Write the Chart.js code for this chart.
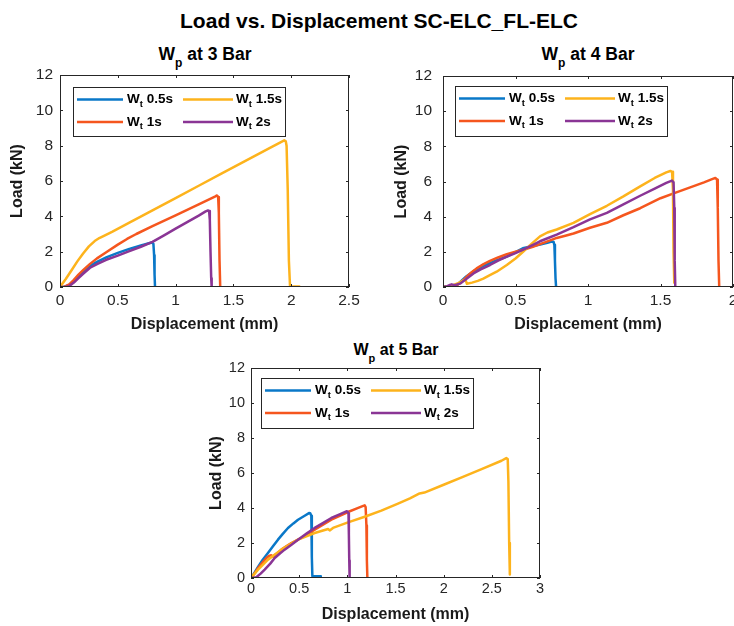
<!DOCTYPE html>
<html>
<head>
<meta charset="utf-8">
<script src="https://cdn.jsdelivr.net/npm/chart.js@4.4.1/dist/chart.umd.min.js"></script>
<style>
  html, body { margin: 0; padding: 0; background: #fff; }
  body { width: 734px; height: 626px; position: relative; overflow: hidden; font-family: "Liberation Sans", Arial, sans-serif; }
  .box { position: absolute; }
  .ttl { position: absolute; text-align: center; font-weight: bold; color: #000; white-space: nowrap; }
  .ttl sub { line-height: 0; }
</style>
</head>
<body>
<div class="ttl" id="mainTitle" style="left:179px; width:400px; top:8.5px; font-size:21px; line-height:24px;">Load vs. Displacement SC-ELC_FL-ELC</div>
<div class="ttl" style="left:105px; width:200px; top:43.6px; font-size:17.5px; line-height:20px;">W<sub style="font-size:12px; vertical-align:-7px;">p</sub> at 3 Bar</div>
<div class="ttl" style="left:488px; width:200px; top:43.6px; font-size:17.5px; line-height:20px;">W<sub style="font-size:12px; vertical-align:-7px;">p</sub> at 4 Bar</div>
<div class="ttl" style="left:296px; width:200px; top:339.5px; font-size:16px; line-height:20px;">W<sub style="font-size:11px; vertical-align:-7px;">p</sub> at 5 Bar</div>

<div class="box" style="left:0px; top:60px; width:360px; height:280px;"><canvas id="c1" width="360" height="280"></canvas></div>
<div class="box" style="left:370px; top:60px; width:364px; height:280px;"><canvas id="c2" width="364" height="280"></canvas></div>
<div class="box" style="left:200px; top:340px; width:360px; height:286px;"><canvas id="c3" width="360" height="286"></canvas></div>

<script>
// ---------- series names / colours ----------
const seriesNames = ['0.5s', '1s', '1.5s', '2s'];
const seriesColors = ['#0a78c8', '#f5561e', '#fdb31c', '#8a3595'];

// ---------- tick values / labels ----------
const yTicks = [0, 2, 4, 6, 8, 10, 12];
const yTickLabels = ['0', '2', '4', '6', '8', '10', '12'];
const xTicks3 = [0, 0.5, 1, 1.5, 2, 2.5];
const xTickLabels3 = ['0', '0.5', '1', '1.5', '2', '2.5'];
const xTicks4 = [0, 0.5, 1, 1.5, 2];
const xTickLabels4 = ['0', '0.5', '1', '1.5', '2'];
const xTicks5 = [0, 0.5, 1, 1.5, 2, 2.5, 3];
const xTickLabels5 = ['0', '0.5', '1', '1.5', '2', '2.5', '3'];

// ---------- Wp at 3 Bar ----------
const b3_05_x = [0, 0.04, 0.08, 0.12, 0.16, 0.2, 0.26, 0.32, 0.4, 0.5, 0.6, 0.7, 0.77, 0.795, 0.808, 0.814, 0.818, 0.822];
const b3_05_y = [0, 0.02, 0.12, 0.35, 0.62, 0.85, 1.2, 1.42, 1.68, 1.93, 2.16, 2.35, 2.48, 2.52, 2.45, 1.8, 0.7, 0];
const b3_1_x = [0, 0.04, 0.08, 0.12, 0.16, 0.2, 0.26, 0.32, 0.4, 0.5, 0.58, 0.66, 0.8, 1.0, 1.2, 1.34, 1.358, 1.368, 1.374, 1.38, 1.386];
const b3_1_y = [0, 0.02, 0.15, 0.4, 0.7, 0.95, 1.31, 1.62, 1.97, 2.4, 2.72, 3.0, 3.44, 4.06, 4.68, 5.12, 5.18, 5.1, 4.2, 1.5, 0];
const b3_15_x = [0, 0.05, 0.1, 0.15, 0.2, 0.25, 0.3, 0.34, 0.38, 0.45, 0.6, 0.8, 1.0, 1.2, 1.4, 1.6, 1.8, 1.94, 1.953, 1.96, 1.97, 1.98, 1.99, 2.03, 2.07];
const b3_15_y = [0, 0.45, 0.95, 1.45, 1.9, 2.3, 2.6, 2.77, 2.9, 3.12, 3.64, 4.34, 5.03, 5.73, 6.43, 7.12, 7.82, 8.3, 8.25, 8.0, 5.5, 1.5, 0.03, 0.03, 0.03];
const b3_2_x = [0, 0.05, 0.08, 0.12, 0.16, 0.2, 0.26, 0.32, 0.4, 0.5, 0.6, 0.7, 0.8, 0.9, 1.0, 1.1, 1.2, 1.26, 1.28, 1.29, 1.296, 1.302, 1.308, 1.312];
const b3_2_y = [0, 0, 0.05, 0.25, 0.5, 0.75, 1.09, 1.3, 1.54, 1.78, 2.03, 2.28, 2.55, 2.92, 3.3, 3.67, 4.04, 4.28, 4.33, 4.3, 3.8, 2.0, 0.5, 0];

// ---------- Wp at 4 Bar ----------
const b4_05_x = [0, 0.05, 0.1, 0.16, 0.22, 0.28, 0.34, 0.44, 0.55, 0.62, 0.67, 0.72, 0.75, 0.762, 0.768, 0.772, 0.776, 0.78];
const b4_05_y = [0, 0.05, 0.15, 0.6, 0.95, 1.2, 1.42, 1.73, 2.2, 2.33, 2.42, 2.52, 2.58, 2.58, 2.4, 1.5, 0.5, 0];
const b4_1_x = [0, 0.04, 0.07, 0.1, 0.13, 0.163, 0.2, 0.232, 0.28, 0.324, 0.38, 0.44, 0.5, 0.554, 0.62, 0.669, 0.73, 0.784, 0.85, 0.9, 1.014, 1.13, 1.244, 1.36, 1.5, 1.6, 1.7, 1.8, 1.86, 1.878, 1.89, 1.895, 1.9, 1.905];
const b4_1_y = [0, 0, 0.02, 0.12, 0.32, 0.58, 0.85, 1.06, 1.3, 1.48, 1.68, 1.87, 2.0, 2.12, 2.28, 2.44, 2.62, 2.79, 2.93, 3.04, 3.37, 3.65, 4.08, 4.48, 5.05, 5.35, 5.65, 5.95, 6.15, 6.2, 6.1, 4.5, 1.5, 0];
const b4_15_x = [0, 0.04, 0.07, 0.1, 0.14, 0.155, 0.165, 0.2, 0.24, 0.278, 0.32, 0.37, 0.44, 0.5, 0.554, 0.61, 0.669, 0.72, 0.784, 0.9, 1.014, 1.13, 1.244, 1.36, 1.46, 1.54, 1.568, 1.58, 1.586, 1.59, 1.595];
const b4_15_y = [0, 0.03, 0.1, 0.2, 0.38, 0.42, 0.18, 0.25, 0.35, 0.48, 0.66, 0.87, 1.25, 1.62, 2.02, 2.45, 2.88, 3.1, 3.27, 3.65, 4.15, 4.62, 5.15, 5.72, 6.2, 6.52, 6.6, 6.55, 5.5, 2.0, 0.25];
const b4_2_x = [0, 0.03, 0.048, 0.06, 0.08, 0.117, 0.16, 0.21, 0.26, 0.324, 0.38, 0.44, 0.5, 0.554, 0.61, 0.669, 0.73, 0.784, 0.9, 1.014, 1.13, 1.244, 1.36, 1.46, 1.54, 1.579, 1.59, 1.595, 1.598, 1.602];
const b4_2_y = [0, 0.05, 0.12, 0.15, 0.1, 0.19, 0.45, 0.77, 1.0, 1.25, 1.5, 1.73, 1.93, 2.12, 2.35, 2.6, 2.8, 2.98, 3.4, 3.85, 4.22, 4.7, 5.19, 5.6, 5.92, 6.05, 5.95, 4.5, 1.5, 0];

// ---------- Wp at 5 Bar ----------
const b5_05_x = [0, 0.03, 0.073, 0.12, 0.176, 0.23, 0.28, 0.33, 0.384, 0.44, 0.488, 0.557, 0.602, 0.615, 0.626, 0.63, 0.633, 0.637, 0.66, 0.69, 0.725];
const b5_05_y = [0, 0.25, 0.63, 1.03, 1.43, 1.83, 2.19, 2.52, 2.86, 3.12, 3.33, 3.56, 3.71, 3.7, 3.56, 2.6, 1.2, 0.1, 0.1, 0.1, 0.1];
const b5_1_x = [0, 0.04, 0.073, 0.12, 0.16, 0.194, 0.21, 0.228, 0.26, 0.315, 0.37, 0.419, 0.522, 0.661, 0.834, 1.007, 1.1, 1.165, 1.18, 1.19, 1.198, 1.203, 1.208];
const b5_1_y = [0, 0.28, 0.57, 0.88, 1.14, 1.28, 1.3, 1.22, 1.35, 1.62, 1.82, 2.0, 2.29, 2.76, 3.33, 3.77, 3.98, 4.12, 4.15, 4.05, 3.0, 1.0, 0];
const b5_15_x = [0, 0.073, 0.176, 0.315, 0.488, 0.661, 0.8, 0.817, 0.851, 1.007, 1.18, 1.353, 1.526, 1.65, 1.75, 1.8, 2.0, 2.2, 2.4, 2.6, 2.65, 2.665, 2.672, 2.68, 2.687];
const b5_15_y = [0, 0.48, 1.05, 1.62, 2.19, 2.57, 2.8, 2.72, 2.86, 3.18, 3.5, 3.85, 4.25, 4.55, 4.83, 4.88, 5.33, 5.78, 6.24, 6.7, 6.85, 6.8, 5.5, 2.0, 0.2];
const b5_2_x = [0, 0.055, 0.1, 0.142, 0.2, 0.246, 0.3, 0.349, 0.42, 0.488, 0.58, 0.661, 0.75, 0.834, 0.92, 0.99, 1.0, 1.012, 1.016, 1.02, 1.024];
const b5_2_y = [0, 0.04, 0.25, 0.48, 0.82, 1.14, 1.4, 1.62, 1.9, 2.19, 2.55, 2.86, 3.15, 3.43, 3.64, 3.81, 3.8, 3.7, 2.5, 1.0, 0];

// ---------- helpers ----------
const FONT = '"Liberation Sans", Arial, Helvetica, sans-serif';
const TICK_COLOR = '#262626';

function pts(xs, ys) { return xs.map((x, i) => ({ x: x, y: ys[i] })); }

function makeDatasets(series) {
  return series.map((s, i) => ({
    label: 'Wt ' + seriesNames[i],
    data: pts(s[0], s[1]),
    showLine: true,
    borderColor: seriesColors[i],
    backgroundColor: seriesColors[i],
    borderWidth: 2.5,
    pointRadius: 0,
    pointHoverRadius: 0,
    tension: 0,
    borderJoinStyle: 'round',
    borderCapStyle: 'round',
    order: series.length - i
  }));
}

const matAxes = {
  id: 'matAxes',
  afterDraw(chart, args, o) {
    const { ctx, chartArea: a, scales } = chart;
    const xs = scales.x, ys = scales.y;
    ctx.save();
    ctx.strokeStyle = TICK_COLOR;
    ctx.lineWidth = 1;
    const L = 3;
    ctx.beginPath();
    xs.ticks.forEach(t => {
      const px = Math.round(xs.getPixelForValue(t.value)) + 0.5;
      ctx.moveTo(px, a.bottom); ctx.lineTo(px, a.bottom - L);
      ctx.moveTo(px, a.top); ctx.lineTo(px, a.top + L);
    });
    ys.ticks.forEach(t => {
      const py = Math.round(ys.getPixelForValue(t.value)) + 0.5;
      ctx.moveTo(a.left, py); ctx.lineTo(a.left + L, py);
      ctx.moveTo(a.right, py); ctx.lineTo(a.right - L, py);
    });
    ctx.stroke();
    ctx.strokeRect(a.left + 0.5, a.top + 0.5, a.right - a.left - 1, a.bottom - a.top - 1);

    // legend
    const bx = a.left + o.dx, by = a.top + o.dy, bw = o.w, bh = o.h;
    ctx.fillStyle = '#fff';
    ctx.fillRect(bx, by, bw, bh);
    ctx.strokeStyle = TICK_COLOR;
    ctx.strokeRect(Math.round(bx) + 0.5, Math.round(by) + 0.5, bw, bh);
    const colLine = [[4, 50], [110, 160]];
    const colText = [54, 163];
    const rowY = [12.5, 35];
    chart.data.datasets.forEach((ds, i) => {
      const col = Math.floor(i / 2), row = i % 2;
      const yy = by + rowY[row];
      ctx.strokeStyle = ds.borderColor;
      ctx.lineWidth = 2.5;
      ctx.beginPath();
      ctx.moveTo(bx + colLine[col][0], yy);
      ctx.lineTo(bx + colLine[col][1], yy);
      ctx.stroke();
      ctx.fillStyle = '#000';
      ctx.textBaseline = 'middle';
      ctx.textAlign = 'left';
      let tx = bx + colText[col];
      ctx.font = 'bold 13.5px ' + FONT;
      ctx.fillText('W', tx, yy);
      tx += ctx.measureText('W').width;
      ctx.font = 'bold 9.5px ' + FONT;
      ctx.fillText('t', tx, yy + 4.5);
      tx += ctx.measureText('t').width;
      ctx.font = 'bold 13.5px ' + FONT;
      ctx.fillText(' ' + seriesNames[i], tx, yy);
    });
    ctx.restore();
  }
};

function makeChart(id, series, cfg) {
  return new Chart(document.getElementById(id), {
    type: 'scatter',
    data: { datasets: makeDatasets(series) },
    plugins: [matAxes],
    options: {
      responsive: false,
      animation: false,
      events: [],
      layout: { padding: { top: cfg.padTop, right: cfg.padRight, left: 0, bottom: 0 } },
      plugins: {
        legend: { display: false },
        tooltip: { enabled: false },
        title: { display: false },
        matAxes: cfg.legend
      },
      scales: {
        x: {
          type: 'linear',
          min: cfg.xTicks[0],
          max: cfg.xTicks[cfg.xTicks.length - 1],
          afterBuildTicks: s => { s.ticks = cfg.xTicks.map(v => ({ value: v })); },
          afterFit: s => { s.height = cfg.xH; s.paddingLeft = 0; s.paddingRight = 0; },
          grid: { display: false, drawTicks: false },
          border: { display: false },
          ticks: {
            autoSkip: false, maxRotation: 0, minRotation: 0,
            padding: cfg.xTickPad,
            color: TICK_COLOR,
            font: { family: FONT, size: cfg.tickSize },
            callback: (v, i) => cfg.xLabels[i]
          },
          title: {
            display: true, text: 'Displacement (mm)', color: '#1a1a1a',
            font: { family: FONT, size: 16, weight: 'bold' },
            padding: { top: 0, bottom: cfg.xTitlePad }
          }
        },
        y: {
          type: 'linear',
          min: 0, max: 12,
          afterBuildTicks: s => { s.ticks = yTicks.map(v => ({ value: v })); },
          afterFit: s => { s.width = cfg.yW; s.paddingTop = 0; s.paddingBottom = 0; },
          grid: { display: false, drawTicks: false },
          border: { display: false },
          ticks: {
            autoSkip: false,
            padding: cfg.yTickPad,
            color: TICK_COLOR,
            font: { family: FONT, size: cfg.tickSize },
            callback: (v, i) => yTickLabels[i]
          },
          title: {
            display: true, text: 'Load (kN)', color: '#1a1a1a',
            font: { family: FONT, size: 16, weight: 'bold' },
            padding: { top: cfg.yTitlePad, bottom: 0 }
          }
        }
      }
    }
  });
}

makeChart('c1', [[b3_05_x, b3_05_y], [b3_1_x, b3_1_y], [b3_15_x, b3_15_y], [b3_2_x, b3_2_y]], {
  padTop: 15, padRight: 11, yW: 60, xH: 53, xTicks: xTicks3, xLabels: xTickLabels3,
  tickSize: 15.5, xTickPad: 4.4, yTickPad: 7, xTitlePad: 5.4, yTitlePad: 8.4,
  legend: { dx: 13, dy: 12, w: 212, h: 49 }
});
makeChart('c2', [[b4_05_x, b4_05_y], [b4_1_x, b4_1_y], [b4_15_x, b4_15_y], [b4_2_x, b4_2_y]], {
  padTop: 16, padRight: 1, yW: 73, xH: 53, xTicks: xTicks4, xLabels: xTickLabels4,
  tickSize: 15.5, xTickPad: 4, yTickPad: 11, xTitlePad: 5.4, yTitlePad: 22.4,
  legend: { dx: 12, dy: 10, w: 212, h: 50 }
});
makeChart('c3', [[b5_05_x, b5_05_y], [b5_1_x, b5_1_y], [b5_15_x, b5_15_y], [b5_2_x, b5_2_y]], {
  padTop: 28, padRight: 20, yW: 51, xH: 48, xTicks: xTicks5, xLabels: xTickLabels5,
  tickSize: 14.5, xTickPad: 2, yTickPad: 6, xTitlePad: 2, yTitlePad: 7.4,
  legend: { dx: 10, dy: 10, w: 212, h: 50 }
});
</script>
</body>
</html>
